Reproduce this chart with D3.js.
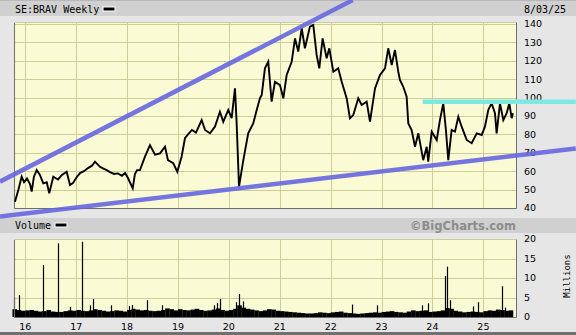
<!DOCTYPE html>
<html>
<head>
<meta charset="utf-8">
<script src="https://cdn.jsdelivr.net/npm/d3@7"></script>
<style>
  body { margin: 0; background: #e6e6e6; }
  svg { display: block; }
</style>
</head>
<body>
<div id="chart"></div>
<script>
// Données (SE:BRAV hebdo)
const priceDates = [
  "2015-10-19","2015-11-12","2015-12-06","2015-12-23","2016-01-13","2016-02-04","2016-02-16","2016-03-03",
  "2016-03-23","2016-04-15","2016-05-09","2016-06-03","2016-06-21","2016-07-20","2016-08-23","2016-09-20",
  "2016-10-24","2016-11-17","2016-12-08","2017-01-06","2017-01-28","2017-02-25","2017-03-26","2017-04-24",
  "2017-05-15","2017-06-20","2017-07-12","2017-08-07","2017-08-31","2017-09-29","2017-10-27","2017-11-25",
  "2017-12-17","2018-01-07","2018-02-10","2018-02-26","2018-03-13","2018-04-03","2018-05-09","2018-06-14",
  "2018-07-20","2018-08-25","2018-09-30","2018-10-21","2018-11-28","2018-12-27","2019-01-27","2019-02-20",
  "2019-03-14","2019-04-11","2019-05-10","2019-06-20","2019-07-14","2019-08-19","2019-09-23","2019-10-29",
  "2019-11-22","2019-12-28","2020-01-21","2020-02-14","2020-02-26","2020-03-14","2020-04-14","2020-05-19",
  "2020-06-24","2020-07-19","2020-08-11","2020-08-24","2020-09-16","2020-10-10","2020-11-03","2020-11-27",
  "2021-01-02","2021-01-26","2021-02-19","2021-03-27","2021-04-20","2021-05-13","2021-06-07","2021-06-30",
  "2021-08-05","2021-08-29","2021-09-22","2021-10-11","2021-11-04","2021-12-03","2021-12-22","2022-01-20",
  "2022-02-24","2022-03-21","2022-04-26","2022-05-19","2022-06-12","2022-07-18","2022-08-11","2022-09-16",
  "2022-10-10","2022-11-15","2022-12-21","2023-01-26","2023-02-18","2023-03-15","2023-04-07","2023-05-01",
  "2023-05-13","2023-06-06","2023-06-30","2023-07-12","2023-08-05","2023-08-29","2023-09-22","2023-10-27",
  "2023-11-21","2023-12-02","2023-12-27","2024-02-01","2024-02-24","2024-03-19","2024-04-07","2024-04-24",
  "2024-05-18","2024-06-11","2024-07-05","2024-07-29","2024-09-03","2024-10-09","2024-11-14","2024-12-20",
  "2025-01-12","2025-02-05","2025-03-01","2025-03-25","2025-04-06","2025-04-30","2025-05-24","2025-06-17",
  "2025-07-06","2025-07-23","2025-08-01"
];
const priceValues = [
  43.4, 49.8, 57.0, 54.0, 56.0, 53.0, 48.9, 57.0,
  60.6, 58.0, 53.4, 54.0, 48.0, 57.0, 55.5, 58.0,
  59.7, 52.5, 53.5, 57.0, 59.0, 60.0, 61.7, 63.0,
  65.2, 62.4, 61.5, 60.6, 59.5, 58.5, 58.8, 57.5,
  59.0, 56.3, 50.7, 58.5, 60.6, 60.6, 67.9, 74.2,
  69.0, 69.7, 73.3, 66.0, 64.3, 59.7, 67.9, 77.9,
  80.0, 82.4, 81.0, 87.8, 82.4, 80.6, 84.2, 92.3,
  86.9, 93.3, 88.8, 105.0, 86.0, 51.6, 66.0, 80.6,
  86.0, 93.3, 99.6, 101.4, 115.9, 119.5, 97.8, 108.6,
  106.8, 99.6, 112.3, 119.5, 132.2, 125.0, 137.7, 126.8,
  138.6, 139.5, 123.2, 115.9, 132.2, 121.4, 126.8, 114.1,
  115.9, 108.6, 99.6, 88.8, 90.5, 99.6, 96.0, 97.8,
  86.9, 105.0, 112.3, 115.9, 126.8, 117.7, 125.9, 114.1,
  109.6, 105.9, 100.5, 86.0, 82.4, 73.3, 80.6, 66.0,
  73.3, 65.2, 81.5, 77.0, 87.8, 96.9, 82.4, 66.0,
  82.4, 81.5, 89.6, 84.2, 77.0, 75.2, 80.6, 79.7,
  84.2, 93.3, 96.9, 91.5, 80.6, 96.9, 87.8, 91.5,
  96.9, 88.8, 91.5
];

// Volume mensuel (millions), d'octobre 2015 à juillet 2025
const volumeStart = "2015-10-01";
const volumeValues = [
  2.0, 1.8, 1.6,
  1.7, 1.8, 1.6, 1.4, 1.5, 1.8, 1.4, 1.3, 1.3, 1.5, 1.7, 1.6,
  1.8, 1.6, 1.5, 1.7, 2.0, 1.8, 1.6, 1.4, 1.5, 1.7, 1.6, 1.4,
  1.8, 2.1, 1.9, 1.7, 1.8, 1.6, 1.5, 1.6, 1.8, 2.2, 2.0, 1.7,
  2.0, 1.8, 1.7, 1.9, 2.1, 1.8, 1.6, 1.7, 1.9, 2.2, 1.8, 1.6,
  1.8, 2.1, 3.0, 2.4, 2.1, 1.9, 1.7, 1.5, 1.7, 2.0, 1.9, 1.6,
  1.5, 1.4, 1.3, 1.2, 1.1, 1.0, 0.9, 0.9, 1.0, 1.2, 1.1, 1.0,
  1.2, 1.3, 1.4, 1.1, 1.0, 0.9, 0.8, 0.9, 1.0, 1.1, 1.2, 1.1,
  1.3, 1.4, 1.5, 1.3, 1.2, 1.1, 1.4, 1.7, 1.5, 1.6, 1.7, 1.3,
  1.4, 1.5, 1.7, 2.3, 2.1, 1.6, 1.4, 1.2, 1.3, 1.4, 1.3, 1.2,
  1.5, 1.7, 1.6, 1.9, 1.8, 1.6, 1.7
];
// Pics de volume isolés
const spikeDates = [
  "2015-10-14","2015-11-19","2016-05-09","2016-08-25","2016-11-20","2017-02-13","2017-04-10","2017-05-03",
  "2017-09-05","2018-01-15","2018-02-05","2018-05-21","2018-09-10","2019-09-15","2019-10-10","2019-10-29",
  "2020-02-20","2020-03-16","2020-04-10","2022-06-01","2022-11-27","2023-10-20","2023-12-02","2024-03-31",
  "2024-04-17","2024-05-06","2024-10-20","2024-11-25","2025-05-16","2025-06-05"
];
const spikeValues = [
  5.2, 5.6, 13.3, 18.9, 2.6, 19.3, 3.0, 4.6,
  3.0, 2.8, 3.1, 4.3, 3.0, 3.0, 3.6, 4.6,
  3.8, 5.9, 4.0, 3.2, 3.0, 3.0, 3.5, 10.5,
  12.9, 4.3, 2.7, 3.8, 7.9, 2.4
];

// Lignes de tendance [date, prix]
const trendUpper = [["2015-07-03", 54.3], ["2022-06-08", 153.0]];
const trendLower = [["2015-07-03", 35.4], ["2026-10-26", 72.3]];
const resistance = [["2023-10-23", 97.8], ["2026-10-26", 97.8]];

const yearTicks = ["2016","2017","2018","2019","2020","2021","2022","2023","2024","2025"];
const priceTicks = [40, 50, 60, 70, 80, 90, 100, 110, 120, 130, 140];
const volumeTicks = [0, 5, 10, 15, 20];

const W = 576, H = 335;
const parse = d3.timeParse("%Y-%m-%d");

const svg = d3.select('#chart').append('svg')
    .attr('width', W)
    .attr('height', H);

// fond et bandeaux
svg.append('rect').attr('width', W).attr('height', H).attr('fill', '#e6e6e6');
svg.append('rect').attr('x', 0).attr('y', 0).attr('width', W).attr('height', 16).attr('fill', '#d0d0d0');
svg.append('rect').attr('x', 0).attr('y', 0).attr('width', W).attr('height', 1).attr('fill', '#b8b8b8');
svg.append('rect').attr('x', 0).attr('y', 218).attr('width', W).attr('height', 15).attr('fill', '#d0d0d0');
svg.append('rect').attr('x', 0).attr('y', 332).attr('width', W).attr('height', 3).attr('fill', '#707070');

const mono = "'DejaVu Sans Mono', monospace";
const sans = "'DejaVu Sans', Verdana, sans-serif";

svg.append('text').attr('x', 15).attr('y', 12.5)
    .style('font-family', mono).style('font-size', '10px').attr('fill', '#000')
    .text('SE:BRAV Weekly');
svg.append('rect').attr('x', 103).attr('y', 7).attr('width', 12).attr('height', 4)
    .attr('fill', '#000').attr('stroke', '#fff').attr('stroke-width', 1);
svg.append('text').attr('x', 524).attr('y', 12.5)
    .style('font-family', mono).style('font-size', '10px').attr('fill', '#000')
    .text('8/03/25');

svg.append('text').attr('x', 15).attr('y', 229)
    .style('font-family', mono).style('font-size', '10px').attr('fill', '#000')
    .text('Volume');
svg.append('rect').attr('x', 55).attr('y', 223).attr('width', 12).attr('height', 4)
    .attr('fill', '#000').attr('stroke', '#fff').attr('stroke-width', 1);
svg.append('text').attr('x', 516).attr('y', 230).attr('text-anchor', 'end')
    .style('font-family', sans).style('font-size', '11.5px').style('font-weight', 'bold')
    .attr('fill', '#8c8c8c')
    .text('\u00A9BigCharts.com');

// échelles
const left = 14, right = 516;
const x = d3.scaleTime()
    .domain([new Date(2015, 9, 12), new Date(2025, 7, 23)])
    .range([left, right]);
const yP = d3.scaleLinear().domain([40, 141.1]).range([208, 22]);
const yV = d3.scaleLinear().domain([0, 20]).range([317, 239]);

const plotBg = '#fafad4', gridCol = '#cdcd9a';
const years = yearTicks.map(d => new Date(+d, 0, 1));

function panel(yTop, yBot, hTicks, yScale) {
    svg.append('rect').attr('x', left).attr('y', yTop)
        .attr('width', right - left).attr('height', yBot - yTop).attr('fill', plotBg);
    svg.append('g').selectAll('line').data(hTicks).join('line')
        .attr('x1', left).attr('x2', right)
        .attr('y1', d => Math.round(yScale(d)) + 0.5).attr('y2', d => Math.round(yScale(d)) + 0.5)
        .attr('stroke', gridCol);
    svg.append('g').selectAll('line').data(years).join('line')
        .attr('x1', d => Math.round(x(d)) + 0.5).attr('x2', d => Math.round(x(d)) + 0.5)
        .attr('y1', yTop).attr('y2', yBot)
        .attr('stroke', gridCol);
}

panel(22, 208, priceTicks, yP);
panel(239, 317, volumeTicks, yV);

// étiquettes des axes
svg.append('g').selectAll('text').data(priceTicks).join('text')
    .attr('x', 524).attr('y', d => yP(d)).attr('dy', '0.35em')
    .style('font-family', sans).style('font-size', '9.5px').attr('fill', '#000')
    .text(d => d);
svg.append('g').selectAll('text').data(volumeTicks).join('text')
    .attr('x', 524).attr('y', d => yV(d)).attr('dy', '0.35em')
    .style('font-family', sans).style('font-size', '9.5px').attr('fill', '#000')
    .text(d => d);
svg.append('g').selectAll('text').data(years).join('text')
    .attr('x', d => x(d)).attr('y', 330).attr('text-anchor', 'middle')
    .style('font-family', sans).style('font-size', '9.5px').attr('fill', '#000')
    .text(d => d3.timeFormat('%y')(d));
svg.append('text')
    .attr('transform', 'translate(570,276) rotate(-90)')
    .attr('text-anchor', 'middle')
    .style('font-family', mono).style('font-size', '9px').attr('fill', '#000')
    .text('Millions');

// volume
const months = volumeValues.map((v, i) => d3.timeMonth.offset(parse(volumeStart), i));
svg.append('g').selectAll('rect').data(volumeValues).join('rect')
    .attr('x', (d, i) => x(months[i]))
    .attr('width', (d, i) => x(d3.timeMonth.offset(months[i], 1)) - x(months[i]) + 0.3)
    .attr('y', d => yV(d))
    .attr('height', d => yV(0) - yV(d))
    .attr('fill', '#000');
svg.append('g').selectAll('line').data(spikeValues).join('line')
    .attr('x1', (d, i) => Math.round(x(parse(spikeDates[i]))) + 0.5)
    .attr('x2', (d, i) => Math.round(x(parse(spikeDates[i]))) + 0.5)
    .attr('y1', yV(0)).attr('y2', d => yV(d))
    .attr('stroke', '#000').attr('stroke-width', 1.2);

// cadres
[[22, 208], [239, 317]].forEach(([a, b]) => {
    svg.append('path')
        .attr('d', `M${left + 0.5},${a + 0.5}V${b + 0.5}H${right + 0.5}V${a + 0.5}`)
        .attr('fill', 'none').attr('stroke', '#6e6e6e');
    svg.append('line').attr('x1', left).attr('x2', right).attr('y1', a + 0.5).attr('y2', a + 0.5)
        .attr('stroke', gridCol);
});

// cours
const priceData = priceDates.map((d, i) => [parse(d), priceValues[i]]);
svg.append('path').datum(priceData)
    .attr('d', d3.line().x(d => x(d[0])).y(d => yP(d[1])))
    .attr('fill', 'none').attr('stroke', '#000').attr('stroke-width', 1.9)
    .attr('stroke-linejoin', 'miter');

// lignes de tendance
const tline = d3.line().x(d => x(parse(d[0]))).y(d => yP(d[1]));
[trendUpper, trendLower].forEach(t => {
    svg.append('path').datum(t).attr('d', tline)
        .attr('fill', 'none').attr('stroke', '#6666e0').attr('stroke-opacity', 0.9)
        .attr('stroke-width', 4.5);
});
svg.append('path').datum(resistance).attr('d', tline)
    .attr('fill', 'none').attr('stroke', '#7ee8e2').attr('stroke-width', 4.5);
</script>
</body>
</html>
